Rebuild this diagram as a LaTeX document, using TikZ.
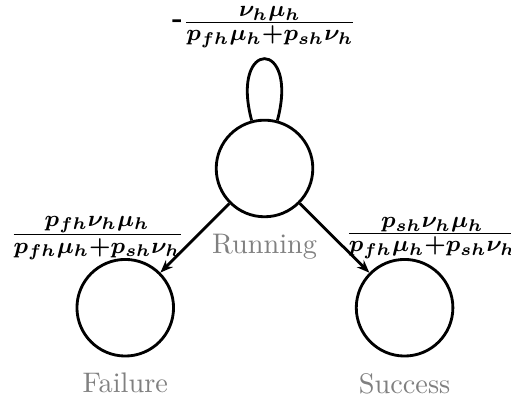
\documentclass[tikz,border=0pt]{standalone}
\usepackage{amsmath}
\usepackage{amssymb}
\usepackage{tikz}
\usetikzlibrary{arrows.meta}

\begin{document}
\begin{tikzpicture}[
        statebox/.style={circle, draw, line width=1pt, minimum size=1.2cm, inner sep=0pt},
        statename/.style={label={[gray, label distance=2pt]below:#1}},
        transarrow/.style={line width=1pt, -{Stealth[length=4.5pt, width=3.5pt]}},
        ratelabel/.style={font=\fontsize{8}{10}\selectfont\bfseries\boldmath}
    ]
        \useasboundingbox (-3.286,2.093) rectangle (3.062,-2.851);
        \node[statebox, statename=Running] (running) at (0,0) {};
        \node[statebox, statename=Failure] (failure) at (-1.73,-1.73) {};
        \node[statebox, statename=Success] (success) at (1.74,-1.73) {};

        \draw[line width=1pt] (running) to[loop above, looseness=8.5] node[ratelabel, above] {{\normalsize-}$\frac{\displaystyle\nu_h\mu_h}{\displaystyle\mathstrut p_{fh}\mu_h{+}p_{sh}\nu_h}$} (running);
        \draw[transarrow] (running) -- node[ratelabel, left] {$\frac{\displaystyle p_{fh}\nu_h\mu_h}{\displaystyle\mathstrut p_{fh}\mu_h{+}p_{sh}\nu_h}$} (failure);
        \draw[transarrow] (running) -- node[ratelabel, right] {$\frac{\displaystyle p_{sh}\nu_h\mu_h}{\displaystyle\mathstrut p_{fh}\mu_h{+}p_{sh}\nu_h}$} (success);
    \end{tikzpicture}
\end{document}
